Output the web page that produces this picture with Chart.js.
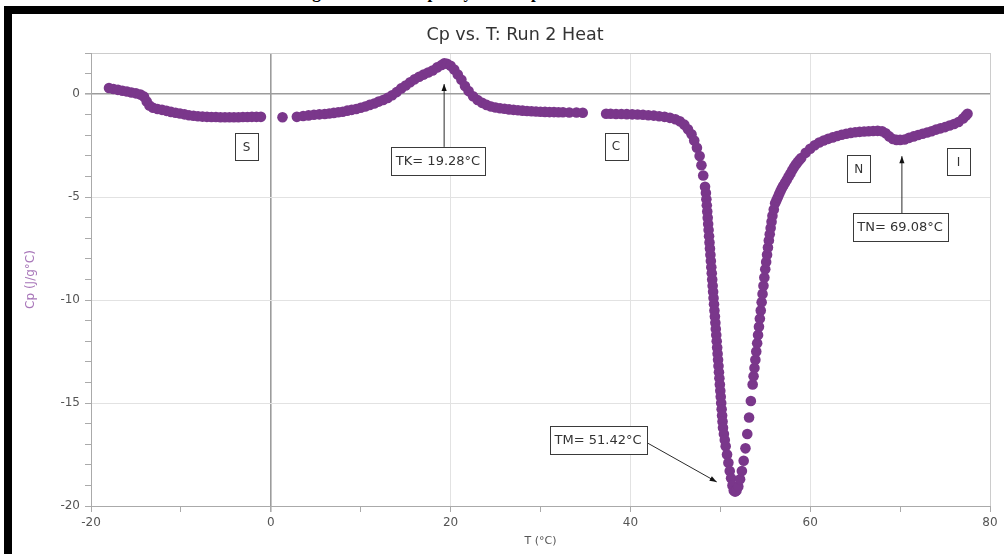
<!DOCTYPE html>
<html>
<head>
<meta charset="utf-8">
<script src="https://cdn.jsdelivr.net/npm/chart.js@4"></script>
<style>
  html, body { margin: 0; padding: 0; background: #fff; width: 1004px; height: 554px; overflow: hidden; position: relative; }
  #caption { position: absolute; left: 0; top: -17px; width: 1004px; text-align: center;
             font: bold 17px "Liberation Serif", serif; color: #000; line-height: 20px; white-space: nowrap; }
  #frame { position: absolute; left: 4px; top: 6px; width: 1100px; height: 700px;
           border-left: 8px solid #000; border-top: 8px solid #000; background: #fff; }
  #chart { position: absolute; left: 12px; top: 14px; }
</style>
</head>
<body>
<div id="caption">Figure 3: Heat Capacity vs. Temperature for Run 2 Heat</div>
<div id="frame"></div>
<canvas id="chart" width="1018" height="540"></canvas>
<script>
// Temperature (°C) of each DSC sample
const tempC = [
  -18.0, -17.5, -17.0, -16.5, -16.0, -15.5, -15.0, -14.5, -14.1, -13.8, -13.5, -13.1, -12.6, -12.1, -11.6, -11.1,
  -10.6, -10.1, -9.6, -9.1, -8.6, -8.1, -7.6, -7.1, -6.6, -6.1, -5.6, -5.1, -4.6, -4.1, -3.6, -3.1, -2.6, -2.1, -1.6, -1.1,
  1.3, 2.9,
  3.6, 4.2, 4.8, 5.4, 6.0, 6.5, 7.0, 7.5, 8.0, 8.5, 9.0, 9.5, 10.0, 10.5, 11.0, 11.5, 12.0, 12.5, 13.0, 13.5, 14.0, 14.5,
  15.0, 15.5, 16.0, 16.5, 17.0, 17.5, 18.0, 18.5, 19.0, 19.3, 19.6, 20.0, 20.4, 20.8, 21.2, 21.6, 22.0, 22.5, 23.0, 23.5,
  24.0, 24.5, 25.0, 25.5, 26.0, 26.5, 27.0, 27.5, 28.0, 28.5, 29.0, 29.5, 30.0, 30.5, 31.0, 31.5, 32.0, 32.5, 33.2, 34.0, 34.7,
  37.3, 37.8, 38.4, 39.0, 39.6, 40.2, 40.8, 41.4, 42.0, 42.6, 43.2, 43.8, 44.4, 45.0, 45.5, 46.0, 46.4, 46.8, 47.1, 47.4,
  47.7, 47.9, 48.1, 48.3, 48.4, 48.45, 48.5, 48.55, 48.6, 48.65, 48.7, 48.75, 48.8, 48.85, 48.9, 48.95, 49.0, 49.05, 49.1,
  49.15, 49.2, 49.25, 49.3, 49.35, 49.4, 49.45, 49.5, 49.55, 49.6, 49.65, 49.7, 49.75, 49.8, 49.85, 49.9, 49.95, 50.0,
  50.05, 50.1, 50.15, 50.2, 50.25, 50.3, 50.4, 50.5, 50.6, 50.75, 50.9, 51.05, 51.2, 51.35, 51.5, 51.65, 51.8, 52.0,
  52.2, 52.4, 52.6, 52.8, 53.0, 53.2, 53.4, 53.6, 53.7, 53.8, 53.9, 54.0, 54.1, 54.2, 54.3, 54.4, 54.5, 54.6, 54.7,
  54.8, 54.9, 55.0, 55.1, 55.2, 55.3, 55.4, 55.5, 55.6, 55.7, 55.8, 55.95, 56.1, 56.25, 56.4, 56.55, 56.7, 56.85,
  57.0, 57.2, 57.4, 57.6, 57.8, 58.0, 58.2, 58.4, 58.6, 58.8, 59.0, 59.5, 60.0, 60.5, 61.0, 61.5, 62.0, 62.5, 63.0,
  63.5, 64.0, 64.5, 65.0, 65.5, 66.0, 66.5, 67.0, 67.5, 68.0, 68.4, 68.8, 69.2, 69.6, 70.0, 70.5, 71.0, 71.5, 72.0,
  72.5, 73.0, 73.5, 74.0, 74.5, 75.0, 75.5, 76.0, 76.5, 77.0, 77.3, 77.5
];

// Heat capacity reading at each temperature
const cp = [
  0.30, 0.25, 0.21, 0.17, 0.13, 0.08, 0.04, -0.02, -0.12, -0.35, -0.55, -0.66, -0.72, -0.76, -0.81, -0.86,
  -0.90, -0.94, -0.98, -1.02, -1.05, -1.07, -1.09, -1.10, -1.11, -1.11, -1.12, -1.12, -1.12, -1.12, -1.12, -1.11, -1.11, -1.10, -1.10, -1.10,
  -1.12, -1.10,
  -1.06, -1.03, -1.00, -0.98, -0.96, -0.94, -0.91, -0.88, -0.85, -0.80, -0.76, -0.72, -0.66, -0.60, -0.52, -0.45, -0.36, -0.28, -0.18, -0.05, 0.10, 0.28,
  0.42, 0.58, 0.72, 0.85, 0.95, 1.05, 1.15, 1.30, 1.42, 1.50, 1.48, 1.38, 1.20, 0.95, 0.70, 0.40, 0.15, -0.10, -0.28, -0.42,
  -0.52, -0.60, -0.65, -0.68, -0.71, -0.74, -0.76, -0.78, -0.80, -0.82, -0.83, -0.84, -0.85, -0.86, -0.87, -0.87, -0.88, -0.88, -0.89, -0.89, -0.90,
  -0.95, -0.95, -0.96, -0.96, -0.97, -0.98, -0.99, -1.00, -1.02, -1.04, -1.07, -1.10, -1.15, -1.22, -1.32, -1.48, -1.70, -1.95, -2.25, -2.60,
  -3.00, -3.45, -3.95, -4.50, -4.80, -5.10, -5.40, -5.70, -6.00, -6.30, -6.60, -6.90, -7.20, -7.50, -7.80, -8.10, -8.40, -8.70, -9.00,
  -9.30, -9.60, -9.90, -10.20, -10.50, -10.80, -11.10, -11.40, -11.70, -12.00, -12.30, -12.60, -12.90, -13.20, -13.50, -13.80, -14.10, -14.40,
  -14.70, -15.00, -15.30, -15.60, -15.90, -16.20, -16.50, -16.80, -17.10, -17.50, -17.90, -18.30, -18.65, -19.00, -19.25, -19.30, -19.25, -19.05,
  -18.70, -18.30, -17.80, -17.20, -16.50, -15.70, -14.90, -14.10, -13.70, -13.30, -12.90, -12.50, -12.10, -11.70, -11.30, -10.90, -10.50, -10.10, -9.70,
  -9.30, -8.90, -8.50, -8.15, -7.80, -7.45, -7.10, -6.80, -6.50, -6.20, -5.90, -5.60, -5.30, -5.15, -5.00, -4.85, -4.70, -4.57,
  -4.45, -4.30, -4.15, -4.00, -3.85, -3.70, -3.55, -3.42, -3.30, -3.20, -3.10, -2.85, -2.65, -2.48, -2.35, -2.25, -2.17, -2.10, -2.03,
  -1.97, -1.92, -1.88, -1.85, -1.83, -1.81, -1.80, -1.79, -1.78, -1.80, -1.90, -2.05, -2.18, -2.22, -2.22, -2.20, -2.12, -2.05, -1.98,
  -1.92, -1.86, -1.80, -1.72, -1.66, -1.60, -1.52, -1.45, -1.35, -1.18, -1.05, -0.95
];

// Axis ticks
const xTicks = [-20, 0, 20, 40, 60, 80];
const yTicks = [-20, -15, -10, -5, 0];

// Phase labels (smectic, crystal, nematic, isotropic)
const phaseLetters = ['S', 'C', 'N', 'I'];
const phaseT = [-2.7, 38.4, 65.4, 76.5];
const phaseCp = [-2.55, -2.52, -3.62, -3.28];

// Transition temperatures
const transitionNames = ['TK', 'TM', 'TN'];
const transitionT = [19.28, 51.42, 69.08];

// Where each transition callout box sits and where its arrow runs (data units)
const calloutBox = [[18.6, -3.24], [36.4, -16.8], [70.0, -6.45]];
const calloutFrom = [[19.28, -2.56], [41.9, -16.94], [70.2, -5.78]];
const calloutTo = [[19.28, 0.49], [49.6, -18.83], [70.2, -3.01]];

const PURPLE = 'rgb(122,55,139)';
const points = tempC.map((t, i) => ({ x: t, y: cp[i] }));

const notesPlugin = {
  id: 'notes',
  afterDatasetsDraw(chart) {
    const { ctx, scales: { x, y } } = chart;
    ctx.save();
    ctx.textAlign = 'center';
    ctx.textBaseline = 'middle';
    ctx.lineWidth = 1;

    const box = (cx, cy, w, h, text) => {
      const l = Math.round(cx - w / 2) + 0.5, t = Math.round(cy - h / 2) + 0.5;
      ctx.fillStyle = '#fff';
      ctx.fillRect(l, t, w, h);
      ctx.strokeStyle = '#3a3a3a';
      ctx.strokeRect(l, t, w, h);
      ctx.fillStyle = '#333';
      ctx.fillText(text, cx, cy + 1);
    };

    ctx.font = '12px "DejaVu Sans"';
    phaseLetters.forEach((s, i) => {
      box(x.getPixelForValue(phaseT[i]), y.getPixelForValue(phaseCp[i]), 23, 27, s);
    });

    ctx.font = '13px "DejaVu Sans"';
    transitionNames.forEach((n, i) => {
      const text = n + '= ' + transitionT[i].toFixed(2) + '°C';
      const w = Math.round(ctx.measureText(text).width) + 10;
      const fx = x.getPixelForValue(calloutFrom[i][0]), fy = y.getPixelForValue(calloutFrom[i][1]);
      const tx = x.getPixelForValue(calloutTo[i][0]), ty = y.getPixelForValue(calloutTo[i][1]);
      ctx.strokeStyle = '#2a2a2a';
      ctx.beginPath();
      ctx.moveTo(fx, fy);
      ctx.lineTo(tx, ty);
      ctx.stroke();
      const a = Math.atan2(ty - fy, tx - fx);
      ctx.fillStyle = '#111';
      ctx.beginPath();
      ctx.moveTo(tx, ty);
      ctx.lineTo(tx - 7 * Math.cos(a) + 2.6 * Math.sin(a), ty - 7 * Math.sin(a) - 2.6 * Math.cos(a));
      ctx.lineTo(tx - 7 * Math.cos(a) - 2.6 * Math.sin(a), ty - 7 * Math.sin(a) + 2.6 * Math.cos(a));
      ctx.closePath();
      ctx.fill();
      box(x.getPixelForValue(calloutBox[i][0]), y.getPixelForValue(calloutBox[i][1]), w, 28, text);
    });
    ctx.restore();
  }
};

const tickFont = { family: 'DejaVu Sans', size: 12 };

new Chart(document.getElementById('chart'), {
  type: 'scatter',
  data: {
    datasets: [{
      data: points,
      backgroundColor: PURPLE,
      borderColor: PURPLE,
      borderWidth: 0,
      pointRadius: 5.3,
      pointHoverRadius: 5.3
    }]
  },
  options: {
    responsive: false,
    animation: false,
    events: [],
    layout: { padding: { left: 28, right: 40, top: 0, bottom: 0 } },
    plugins: {
      legend: { display: false },
      tooltip: { enabled: false },
      title: {
        display: true,
        text: 'Cp vs. T: Run 2 Heat',
        color: '#333',
        font: { family: 'DejaVu Sans', size: 17.5, weight: 'normal' },
        padding: { top: 11, bottom: 7 }
      }
    },
    scales: {
      x: {
        type: 'linear',
        min: -20,
        max: 80,
        ticks: {
          stepSize: 10,
          autoSkip: false,
          maxRotation: 0,
          padding: 4,
          color: '#555',
          font: tickFont,
          callback: v => (xTicks.includes(v) ? String(v) : '')
        },
        grid: {
          color: c => {
            const v = c.tick ? c.tick.value : null;
            if (v === 0) return '#9c9c9c';
            if (v === 80) return '#cccccc';
            if (v === -20) return 'rgba(0,0,0,0)';
            return v % 20 === 0 ? '#e2e2e2' : 'rgba(0,0,0,0)';
          },
          lineWidth: c => (c.tick && c.tick.value === 0 ? 1.6 : 1),
          tickColor: '#aaaaaa',
          tickLength: 6
        },
        border: { color: '#aaaaaa' },
        title: {
          display: true,
          text: 'T (°C)',
          color: '#555',
          font: { family: 'DejaVu Sans', size: 11 },
          padding: { top: 0, bottom: 6 }
        },
        afterFit: s => { s.height = 48; }
      },
      y: {
        type: 'linear',
        min: -20,
        max: 2,
        ticks: {
          stepSize: 1,
          autoSkip: false,
          padding: 5,
          color: '#555',
          font: tickFont,
          callback: v => (yTicks.includes(v) ? String(v) : '')
        },
        grid: {
          color: c => {
            const v = c.tick ? c.tick.value : null;
            if (v === 0) return '#9c9c9c';
            if (v === 2) return '#cccccc';
            if (v === -20) return 'rgba(0,0,0,0)';
            return v % 5 === 0 ? '#e2e2e2' : 'rgba(0,0,0,0)';
          },
          lineWidth: c => (c.tick && c.tick.value === 0 ? 1.6 : 1),
          tickColor: '#aaaaaa',
          tickLength: 6
        },
        border: { color: '#aaaaaa' },
        title: {
          display: true,
          text: 'Cp (J/g°C)',
          color: 'rgb(168,118,185)',
          font: { family: 'DejaVu Sans', size: 12 },
          padding: { top: -16, bottom: 0 }
        },
        afterFit: s => { s.width = 51; }
      }
    }
  },
  plugins: [notesPlugin]
});
</script>
</body>
</html>
